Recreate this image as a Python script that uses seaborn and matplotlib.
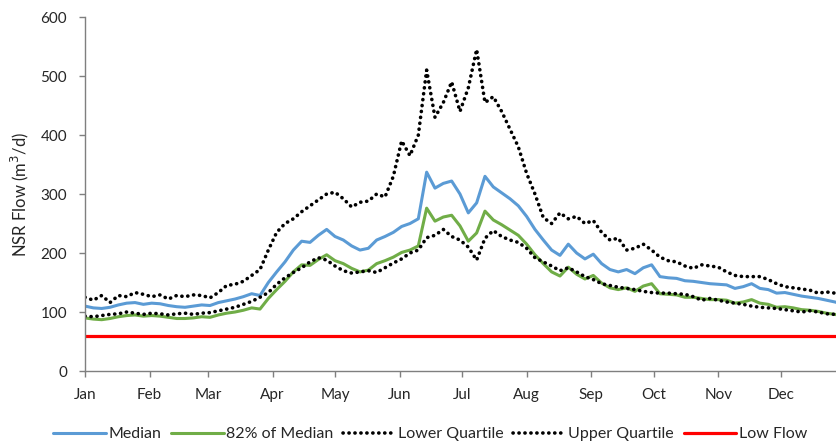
import pandas as pd
import numpy as np
import matplotlib
matplotlib.use('Agg')
import matplotlib.pyplot as plt
import matplotlib.dates as mdates
import seaborn as sns

# Dati (un valore ogni 4 giorni, dal 1 gennaio)
median_flow = [110, 107, 106, 108, 112, 115, 116, 113, 115, 114, 111, 109, 108, 110, 112, 111,
               116, 119, 122, 126, 131, 128, 150, 168, 185, 205, 220, 218, 230, 240, 228, 222,
               212, 205, 208, 222, 228, 235, 245, 250, 258, 337, 310, 318, 322, 300, 268, 285,
               330, 312, 302, 292, 280, 262, 240, 222, 205, 196, 215, 200, 190, 198, 182, 172,
               168, 172, 165, 175, 180, 160, 158, 157, 153, 152, 150, 148, 147, 146, 140, 143,
               148, 140, 138, 132, 133, 130, 127, 125, 123, 120, 117, 113]

median_82 = [90, 88, 87, 89, 92, 94, 95, 93, 94, 93, 91, 89, 89, 90, 92, 91,
             95, 98, 100, 103, 107, 105, 123, 138, 152, 168, 180, 179, 189, 197, 187, 182,
             174, 168, 171, 182, 187, 193, 201, 205, 212, 276, 254, 261, 264, 246, 220, 234,
             271, 256, 248, 239, 230, 215, 197, 182, 168, 161, 176, 164, 156, 162, 149, 141,
             138, 141, 135, 144, 148, 131, 130, 129, 125, 125, 123, 121, 121, 120, 115, 117,
             121, 115, 113, 108, 109, 107, 104, 103, 101, 98, 96, 93]

lower_quartile = [93, 92, 94, 96, 97, 100, 98, 96, 98, 97, 95, 97, 98, 96, 98, 99,
                  102, 105, 108, 113, 118, 125, 133, 147, 158, 167, 175, 185, 192, 188, 178, 170,
                  166, 168, 170, 167, 175, 183, 190, 200, 205, 226, 230, 240, 228, 222, 210, 188,
                  225, 238, 228, 222, 218, 208, 192, 185, 178, 170, 175, 168, 160, 155, 148, 145,
                  142, 140, 138, 135, 133, 132, 132, 131, 130, 126, 120, 123, 120, 117, 115, 113,
                  110, 108, 107, 106, 104, 102, 100, 102, 100, 97, 96, 94]

upper_quartile = [125, 120, 128, 116, 128, 126, 133, 130, 126, 129, 122, 128, 126, 129, 128, 124,
                  133, 145, 147, 152, 162, 172, 205, 235, 250, 258, 270, 280, 290, 300, 303, 292,
                  278, 286, 288, 300, 295, 330, 390, 365, 400, 510, 430, 455, 490, 440, 480, 545,
                  455, 465, 440, 410, 380, 335, 300, 260, 250, 268, 258, 262, 250, 255, 235, 222,
                  225, 205, 208, 215, 205, 193, 187, 185, 178, 174, 180, 178, 176, 168, 162, 160,
                  160, 160, 155, 148, 143, 141, 139, 137, 132, 134, 132, 130]

low_flow = 60

dates = pd.date_range('2019-01-01', periods=len(median_flow), freq='4D')
df = pd.DataFrame({'Data': dates,
                   'Median': median_flow,
                   '82% of Median': median_82,
                   'Lower Quartile': lower_quartile,
                   'Upper Quartile': upper_quartile})
df['Low Flow'] = low_flow

sns.set_theme(style='white')
plt.rcParams['font.family'] = ['Lato', 'DejaVu Sans']

fig = plt.figure(figsize=(8.37, 4.43), dpi=100)
ax = fig.add_axes([0.1016, 0.1625, 0.8984, 0.7991])

dotted = (0, (0.05, 1.6))
sns.lineplot(data=df, x='Data', y='Low Flow', ax=ax, color='#FF0000', linewidth=2.3, label='Low Flow')
sns.lineplot(data=df, x='Data', y='82% of Median', ax=ax, color='#70AD47', linewidth=2.2, label='82% of Median')
sns.lineplot(data=df, x='Data', y='Median', ax=ax, color='#5B9BD5', linewidth=2.2, label='Median')
ax.plot(df['Data'], df['Lower Quartile'], color='black', linewidth=2.6, linestyle=dotted,
        dash_capstyle='round', label='Lower Quartile')
ax.plot(df['Data'], df['Upper Quartile'], color='black', linewidth=2.6, linestyle=dotted,
        dash_capstyle='round', label='Upper Quartile')

ax.set_xlim(pd.Timestamp('2019-01-01'), pd.Timestamp('2019-12-28'))
ax.set_ylim(0, 600)
ax.set_yticks(np.arange(0, 601, 100))
ax.xaxis.set_major_locator(mdates.MonthLocator())
ax.xaxis.set_major_formatter(mdates.DateFormatter('%b'))

for side in ['top', 'right']:
    ax.spines[side].set_visible(False)
for side in ['left', 'bottom']:
    ax.spines[side].set_color('#7F7F7F')
    ax.spines[side].set_linewidth(1.0)
ax.tick_params(axis='both', which='major', direction='out', length=4, width=1.0,
               color='#7F7F7F', labelsize=11, labelcolor='#262626',
               bottom=True, left=True)
ax.tick_params(axis='y', pad=9)
ax.tick_params(axis='x', pad=8)

ax.set_xlabel('')
ax.set_ylabel('NSR Flow (m$^3$/d)', fontsize=12, color='#262626', labelpad=7)

ax.get_legend().remove()
handles, labels = ax.get_legend_handles_labels()
order = ['Median', '82% of Median', 'Lower Quartile', 'Upper Quartile', 'Low Flow']
hmap = dict(zip(labels, handles))
fig.legend([hmap[k] for k in order], order, loc='center', bbox_to_anchor=(0.514, 0.02),
           ncol=5, frameon=False, fontsize=11.5, handlelength=3.3, handletextpad=0.15,
           columnspacing=0.6, labelcolor='#262626', borderpad=0)

plt.savefig('out.png', dpi=100)
